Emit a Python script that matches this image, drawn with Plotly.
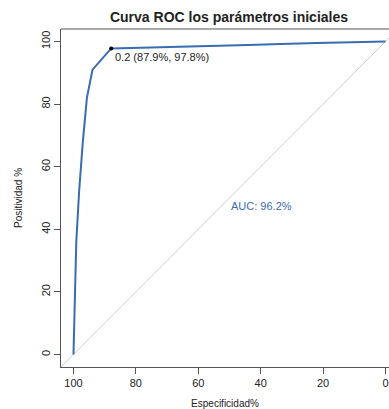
import plotly.graph_objects as go

# ROC curve data (Especificidad %, Positividad %)
especificidad = [100, 99.7, 99.1, 98.2, 97.0, 95.7, 93.9, 87.9, 73.3, 58.4, 44.0, 36.3, 28.9, 21.9, 14.5, 7.1, 0]
positividad = [0, 12, 36, 52, 68, 82, 91, 97.8, 98.1, 98.4, 98.9, 99.1, 99.4, 99.5, 99.7, 99.9, 100]

best_threshold = "0.2"
best_spec = 87.9
best_sens = 97.8
auc = 96.2

x_ticks = [100, 80, 60, 40, 20, 0]
y_ticks = [0, 20, 40, 60, 80, 100]

W, H = 389, 409
L, R, T, B = 61, 0, 29, 42

fig = go.Figure()

# diagonal reference line
fig.add_trace(go.Scatter(x=[104, -4], y=[-4, 104], mode="lines",
                         line=dict(color="#cfcfcf", width=1), hoverinfo="skip", showlegend=False))
# ROC curve
fig.add_trace(go.Scatter(x=especificidad, y=positividad, mode="lines",
                         line=dict(color="#3a6cb0", width=2), showlegend=False))
# best threshold point
fig.add_trace(go.Scatter(x=[best_spec], y=[best_sens], mode="markers",
                         marker=dict(color="black", size=4), showlegend=False))

fig.add_annotation(x=best_spec, y=best_sens, xref="x", yref="y",
                   text=f"{best_threshold} ({best_spec}%, {best_sens}%)",
                   showarrow=False, xanchor="left", yanchor="top", xshift=2, yshift=-1,
                   font=dict(family="Liberation Sans, Arial", size=11, color="#222"))
fig.add_annotation(x=50, y=50, xref="x", yref="y", text=f"AUC: {auc}%",
                   showarrow=False, xanchor="left", yanchor="top",
                   font=dict(family="Liberation Sans, Arial", size=11, color="#3a6cb0"))

# top border line
fig.add_shape(type="line", xref="paper", yref="paper", x0=0, x1=1, y0=1, y1=1,
              line=dict(color="#555", width=1))

fig.update_layout(
    width=W, height=H,
    margin=dict(l=L, r=R, t=T, b=B, pad=0),
    paper_bgcolor="white", plot_bgcolor="white",
    font=dict(family="Liberation Sans, Arial", color="#222"),
    title=dict(text="<b>Curva ROC los parámetros iniciales</b>", x=229 / W, xanchor="center",
               y=1 - 17 / H, yanchor="middle", font=dict(size=14, color="#222")),
    xaxis=dict(range=[104, 104 - (W - L - R) / 3.12], tickvals=x_ticks, ticktext=[str(v) for v in x_ticks],
               showgrid=False, zeroline=False, showline=True, linecolor="#555", linewidth=1,
               ticks="outside", ticklen=6, tickcolor="#555", tickfont=dict(size=11),
               title=dict(text="Especificidad%", font=dict(size=10), standoff=11)),
    yaxis=dict(range=[-4, 104], tickvals=y_ticks, ticktext=[str(v) for v in y_ticks],
               showgrid=False, zeroline=False, showline=True, linecolor="#555", linewidth=1,
               ticks="outside", ticklen=6, tickcolor="#555", tickfont=dict(size=11), tickangle=-90,
               title=dict(text="Positividad %", font=dict(size=10), standoff=15)),
)

fig.write_html("out.html")
